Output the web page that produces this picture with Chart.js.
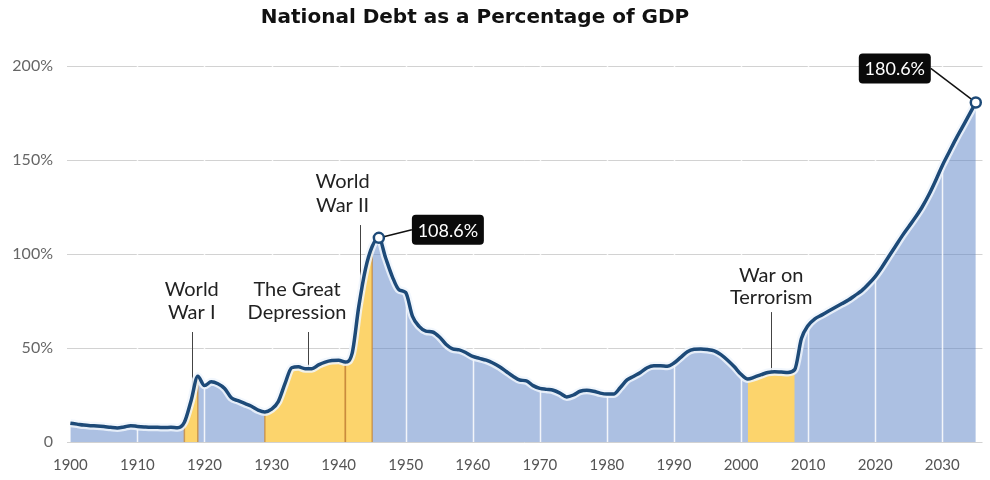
<!DOCTYPE html>
<html>
<head>
<meta charset="utf-8">
<script src="https://cdn.jsdelivr.net/npm/chart.js@4"></script>
<style>
  html, body { margin: 0; padding: 0; background: #fff; }
</style>
</head>
<body>
<canvas id="deudaChart" width="990" height="480"></canvas>
<script>
// Datos (deuda nacional como % del PIB)
const years = [
  1900, 1901, 1902, 1903, 1904, 1905, 1906, 1907, 1908, 1909,
  1910, 1911, 1912, 1913, 1914, 1915, 1916, 1917, 1918, 1919,
  1920, 1921, 1922, 1923, 1924, 1925, 1926, 1927, 1928, 1929,
  1930, 1931, 1932, 1933, 1934, 1935, 1936, 1937, 1938, 1939,
  1940, 1941, 1942, 1943, 1944, 1945, 1946, 1947, 1948, 1949,
  1950, 1951, 1952, 1953, 1954, 1955, 1956, 1957, 1958, 1959,
  1960, 1961, 1962, 1963, 1964, 1965, 1966, 1967, 1968, 1969,
  1970, 1971, 1972, 1973, 1974, 1975, 1976, 1977, 1978, 1979,
  1980, 1981, 1982, 1983, 1984, 1985, 1986, 1987, 1988, 1989,
  1990, 1991, 1992, 1993, 1994, 1995, 1996, 1997, 1998, 1999,
  2000, 2001, 2002, 2003, 2004, 2005, 2006, 2007, 2008, 2009,
  2010, 2011, 2012, 2013, 2014, 2015, 2016, 2017, 2018, 2019,
  2020, 2021, 2022, 2023, 2024, 2025, 2026, 2027, 2028, 2029,
  2030, 2031, 2032, 2033, 2034, 2035
];
const debt = [
  10.0, 9.5, 9.0, 8.7, 8.5, 8.2, 7.8, 7.5, 8.0, 8.7,
  8.3, 8.0, 7.8, 7.8, 7.7, 7.8, 7.6, 10.5, 22.0, 35.0,
  30.0, 32.0, 31.0, 28.5, 23.5, 22.0, 20.5, 19.0, 17.0, 16.0,
  17.5, 21.5, 31.0, 39.5, 40.0, 39.0, 39.0, 41.0, 42.5, 43.3,
  43.5, 42.5, 47.0, 72.0, 92.0, 104.0, 108.6, 98.0, 88.0, 81.0,
  79.5, 67.0, 61.5, 59.0, 58.5, 56.0, 52.0, 49.5, 49.0, 47.5,
  45.5, 44.5, 43.5, 42.0, 40.0, 37.5, 35.0, 33.0, 32.5, 30.0,
  28.5, 28.0, 27.5, 26.0, 24.0, 25.0, 27.0, 27.5, 27.0, 26.0,
  25.5, 25.5, 29.0, 33.0, 35.0, 37.0, 39.5, 40.5, 40.5, 40.3,
  42.0, 45.0, 48.0, 49.3, 49.5, 49.2, 48.5, 46.5, 43.5, 40.0,
  36.0, 33.5, 34.5, 35.8, 37.0, 37.4, 37.2, 37.0, 38.5, 55.0,
  62.0, 65.5, 67.5, 69.5, 71.5, 73.5, 75.5, 78.0, 80.5, 84.0,
  88.0, 93.0, 98.5, 104.0, 109.5, 114.5, 119.5, 125.0, 131.5, 139.0,
  147.0, 154.0, 161.0, 167.5, 174.0, 180.6
];
const xTickValues = [1900, 1910, 1920, 1930, 1940, 1950, 1960, 1970, 1980, 1990, 2000, 2010, 2020, 2030];
const yTickValues = [0, 50, 100, 150, 200];
const yTickLabels = ['0', '50%', '100%', '150%', '200%'];

// Periodos resaltados en amarillo
const periodNames = [['World', 'War I'], ['The Great', 'Depression'], ['World', 'War II'], ['War on', 'Terrorism']];
const periodStart = [1917, 1929, 1941, 2001];
const periodEnd = [1919, 1941, 1945, 2008];

// Años con valor destacado
const calloutYears = [1946, 2035];

const TITULO = 'National Debt as a Percentage of GDP';

// Ubicación de etiquetas (en unidades de los ejes)
const labelLayout = [
  { leaderYear: 1918.1, textYear: 1918.1, textValues: [80.9, 68.6], leaderTop: 58.5 },
  { leaderYear: 1935.5, textYear: 1933.8, textValues: [80.9, 68.6], leaderTop: 58.5 },
  { leaderYear: 1943.2, textYear: 1940.6, textValues: [138.3, 126.0], leaderTop: 115.4 },
  { leaderYear: 2004.5, textYear: 2004.5, textValues: [88.8, 77.1], leaderTop: 69.1 }
];
const calloutOffsets = [[69, -8], [-81, -34]];
const periodEdges = [true, true, true, false];

const AZUL_LINEA = '#1d4a78';
const AMARILLO = '#fcd46c';
const FUENTE = 'Lato, "Open Sans", sans-serif';

const puntos = years.map((y, i) => ({ x: y, y: debt[i] }));

function debtAt(year) {
  for (let i = 0; i < years.length - 1; i++) {
    if (year >= years[i] && year <= years[i + 1]) {
      const t = (year - years[i]) / (years[i + 1] - years[i]);
      return debt[i] + t * (debt[i + 1] - debt[i]);
    }
  }
  return debt[debt.length - 1];
}

const datasets = [];
// 0: relleno azul
datasets.push({
  data: puntos,
  fill: 'origin',
  backgroundColor: 'rgba(95, 135, 200, 0.52)',
  borderWidth: 0,
  pointRadius: 0,
  cubicInterpolationMode: 'monotone',
  order: 10
});
// 1..4: periodos amarillos
periodStart.forEach((s, i) => {
  datasets.push({
    data: puntos.map(p => (p.x >= s && p.x <= periodEnd[i]) ? p : { x: p.x, y: null }),
    fill: 'origin',
    backgroundColor: AMARILLO,
    borderWidth: 0,
    pointRadius: 0,
    spanGaps: false,
    cubicInterpolationMode: 'monotone',
    order: 6 + i
  });
});
// 5: halo claro
datasets.push({
  data: puntos,
  fill: false,
  borderColor: 'rgba(240, 246, 253, 0.85)',
  borderWidth: 8,
  pointRadius: 0,
  cubicInterpolationMode: 'monotone',
  order: 2
});
// 6: línea principal
datasets.push({
  data: puntos,
  fill: false,
  borderColor: AZUL_LINEA,
  borderWidth: 3.5,
  pointRadius: ctx => calloutYears.includes(years[ctx.dataIndex]) ? 5 : 0,
  pointBackgroundColor: '#ffffff',
  pointBorderColor: AZUL_LINEA,
  pointBorderWidth: 2.5,
  cubicInterpolationMode: 'monotone',
  order: 1
});

function roundRect(ctx, x, y, w, h, r) {
  ctx.beginPath();
  ctx.moveTo(x + r, y);
  ctx.lineTo(x + w - r, y);
  ctx.quadraticCurveTo(x + w, y, x + w, y + r);
  ctx.lineTo(x + w, y + h - r);
  ctx.quadraticCurveTo(x + w, y + h, x + w - r, y + h);
  ctx.lineTo(x + r, y + h);
  ctx.quadraticCurveTo(x, y + h, x, y + h - r);
  ctx.lineTo(x, y + r);
  ctx.quadraticCurveTo(x, y, x + r, y);
  ctx.closePath();
}

const decorPlugin = {
  id: 'decor',
  afterDatasetDraw(chart, args) {
    if (args.index !== 0) return;
    // líneas blancas verticales dentro del relleno
    const ctx = chart.ctx;
    const xs = chart.scales.x;
    const area = chart.chartArea;
    ctx.save();
    ctx.strokeStyle = 'rgba(255,255,255,0.85)';
    ctx.lineWidth = 1.5;
    xTickValues.slice(1).forEach(v => {
      const px = Math.round(xs.getPixelForValue(v)) + 0.5;
      ctx.beginPath();
      ctx.moveTo(px, area.bottom);
      ctx.lineTo(px, area.top);
      ctx.stroke();
    });
    ctx.restore();
  },
  beforeDatasetDraw(chart, args) {
    if (args.index !== 5) return;
    const ctx = chart.ctx;
    const xs = chart.scales.x;
    const ys = chart.scales.y;
    ctx.save();
    // bordes de los periodos
    ctx.strokeStyle = 'rgba(200, 135, 55, 0.75)';
    ctx.lineWidth = 1.5;
    periodStart.forEach((s, i) => {
      if (!periodEdges[i]) return;
      [s, periodEnd[i]].forEach(v => {
        const px = xs.getPixelForValue(v);
        ctx.beginPath();
        ctx.moveTo(px, ys.getPixelForValue(0));
        ctx.lineTo(px, ys.getPixelForValue(debtAt(v)));
        ctx.stroke();
      });
    });
    // líneas guía de las etiquetas
    ctx.strokeStyle = '#444';
    ctx.lineWidth = 1;
    labelLayout.forEach(l => {
      const px = Math.round(xs.getPixelForValue(l.leaderYear)) + 0.5;
      ctx.beginPath();
      ctx.moveTo(px, ys.getPixelForValue(l.leaderTop));
      ctx.lineTo(px, ys.getPixelForValue(debtAt(l.leaderYear)));
      ctx.stroke();
    });
    ctx.restore();
  },
  afterDatasetsDraw(chart) {
    const ctx = chart.ctx;
    const xs = chart.scales.x;
    const ys = chart.scales.y;
    ctx.save();
    // textos de los periodos
    ctx.fillStyle = '#222';
    ctx.font = '20px ' + FUENTE;
    ctx.textAlign = 'center';
    ctx.textBaseline = 'middle';
    labelLayout.forEach((l, i) => {
      const px = xs.getPixelForValue(l.textYear);
      periodNames[i].forEach((txt, k) => {
        ctx.fillText(txt, px, ys.getPixelForValue(l.textValues[k]));
      });
    });
    // recuadros con el valor
    calloutYears.forEach((yr, i) => {
      const idx = years.indexOf(yr);
      const px = xs.getPixelForValue(yr);
      const py = ys.getPixelForValue(debt[idx]);
      const cx = px + calloutOffsets[i][0];
      const cy = py + calloutOffsets[i][1];
      const w = 72, h = 30;
      const edgeX = cx < px ? cx + w / 2 : cx - w / 2;
      const dx = edgeX - px, dy = cy - py;
      const len = Math.sqrt(dx * dx + dy * dy);
      ctx.strokeStyle = '#111';
      ctx.lineWidth = 1.5;
      ctx.beginPath();
      ctx.moveTo(px + dx / len * 6, py + dy / len * 6);
      ctx.lineTo(edgeX, cy);
      ctx.stroke();
      ctx.fillStyle = '#0a0a0a';
      roundRect(ctx, cx - w / 2, cy - h / 2, w, h, 4);
      ctx.fill();
      ctx.fillStyle = '#ffffff';
      ctx.font = '18px ' + FUENTE;
      ctx.fillText(debt[idx].toFixed(1) + '%', cx, cy + 1);
    });
    // título
    ctx.fillStyle = '#111';
    ctx.font = 'bold 20px "DejaVu Sans", sans-serif';
    ctx.fillText(TITULO, 475, 18);
    ctx.restore();
  }
};

new Chart(document.getElementById('deudaChart'), {
  type: 'line',
  data: { datasets: datasets },
  options: {
    responsive: false,
    animation: false,
    devicePixelRatio: 1,
    layout: { padding: { left: 0, right: 3, top: 66, bottom: 6 } },
    scales: {
      x: {
        type: 'linear',
        min: 1899.5,
        max: 2036,
        afterBuildTicks: s => { s.ticks = xTickValues.map(v => ({ value: v })); },
        afterFit: s => { s.height = 32; },
        ticks: {
          callback: v => String(v),
          color: '#555',
          font: { family: FUENTE, size: 15 },
          padding: 14,
          maxRotation: 0,
          autoSkip: false
        },
        grid: { display: false, drawTicks: false },
        border: { display: false }
      },
      y: {
        min: 0,
        max: 200,
        afterBuildTicks: s => { s.ticks = yTickValues.map(v => ({ value: v })); },
        afterFit: s => { s.width = 67; },
        ticks: {
          callback: (v, i) => yTickLabels[i],
          color: '#666',
          font: { family: FUENTE, size: 16 },
          padding: 14
        },
        grid: { color: '#d2d2d2', drawTicks: false },
        border: { display: false }
      }
    },
    plugins: {
      legend: { display: false },
      tooltip: { enabled: false },
      title: { display: false }
    }
  },
  plugins: [decorPlugin]
});
</script>
</body>
</html>
